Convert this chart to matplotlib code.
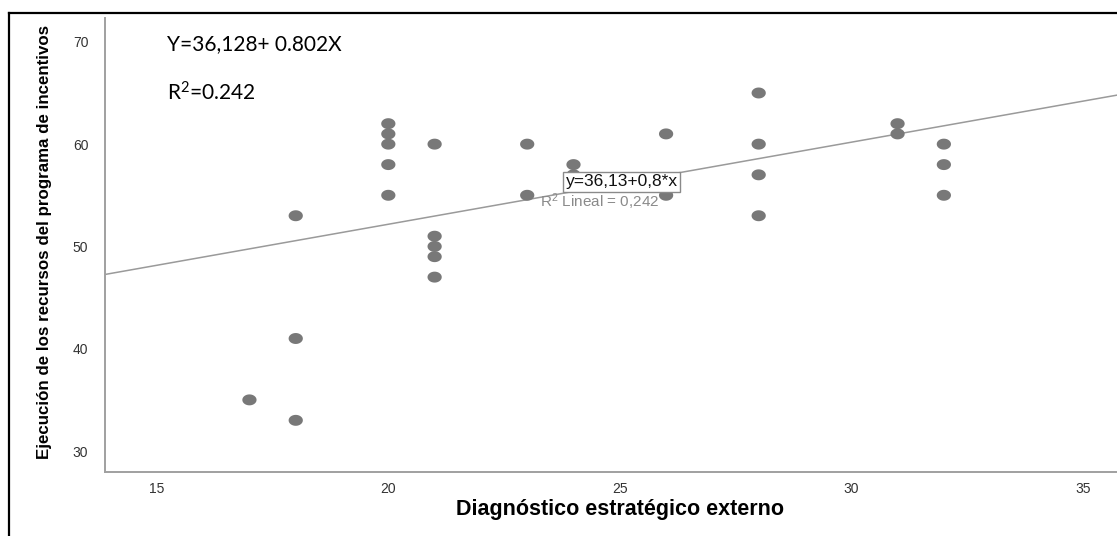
import numpy as np
import matplotlib
matplotlib.use("Agg")
import matplotlib.pyplot as plt
from matplotlib.lines import Line2D
from matplotlib.path import Path

plt.rcParams["mathtext.default"] = "regular"

# Scores: external strategic diagnosis (x) vs execution of incentive-programme resources (y)
diagnostico = [17, 18, 18, 18,
               20, 20, 20, 20, 20,
               21, 21, 21, 21, 21,
               23, 23, 24, 24,
               26, 26, 28, 28, 28, 28,
               31, 31, 32, 32, 32]
ejecucion = [35, 53, 41, 33,
             62, 61, 60, 58, 55,
             60, 51, 50, 49, 47,
             60, 55, 58, 57,
             61, 55, 65, 60, 57, 53,
             62, 61, 60, 58, 55]

intercepto = 36.128
pendiente = 0.802
r2 = 0.242

x_ticks = [15, 20, 25, 30, 35]
y_ticks = [30, 40, 50, 60, 70]

W, H = 1117, 536
fig = plt.figure(figsize=(W / 100, H / 100), dpi=100)
ax = fig.add_axes([105 / W, 1 - 472 / H, 1 - 105 / W, (472 - 18) / H])

ax.set_xlim(13.88, 35.74)
ax.set_ylim(27.95, 72.33)

# Fit line across the full x range
xl = np.array(ax.get_xlim())
ax.plot(xl, intercepto + pendiente * xl, color="#9a9a9a", lw=1.1, zorder=2)

# Slightly flattened dots
t = np.linspace(0, 2 * np.pi, 60)
ell = Path(np.column_stack([1.3 * np.cos(t), np.sin(t)]), closed=True)
ax.scatter(diagnostico, ejecucion, marker=ell, s=105, color="#787878",
           edgecolors="none", zorder=3)

for side in ["top", "right"]:
    ax.spines[side].set_visible(False)
for side in ["left", "bottom"]:
    ax.spines[side].set_color("#a0a0a0")
    ax.spines[side].set_linewidth(1.4)

ax.set_xticks(x_ticks)
ax.set_yticks(y_ticks)
ax.tick_params(length=0, labelsize=10, labelcolor="#333333")
ax.tick_params(axis="y", pad=12)
ax.tick_params(axis="x", pad=7)
for lab in ax.get_xticklabels() + ax.get_yticklabels():
    lab.set_family("Liberation Sans")

# In-plot fit annotations
ax.text(25.04, 56.3, "y=36,13+0,8*x", ha="center", va="center", fontsize=12.5,
        family="Liberation Sans", color="#111111", zorder=5,
        bbox=dict(boxstyle="square,pad=0.15", fc="white", ec="#8a8a8a", lw=1))
ax.text(24.57, 54.4, "R$^2$ Lineal = 0,242", ha="center", va="center",
        fontsize=11, family="Liberation Sans", color="#8a8a8a", zorder=4)

fig.text(167 / W, 1 - 44 / H, "Y=36,128+ 0.802X",
         ha="left", va="center", fontsize=15, family="Lato", color="black")
fig.text(167 / W, 1 - 93 / H, "R$^2$=0.242",
         ha="left", va="center", fontsize=15, family="Lato", color="black")

fig.text(620 / W, 1 - 510 / H, "Diagnóstico estratégico externo",
         ha="center", va="center", fontsize=15.5, fontweight="bold",
         family="Liberation Sans", color="black")
fig.text(45 / W, 1 - 242 / H,
         "Ejecución de los recursos del programa de incentivos",
         rotation=90, ha="center", va="center", fontsize=12.2,
         fontweight="bold", family="Liberation Sans", color="black")

# Outer frame
fig.add_artist(Line2D([8.5 / W, 1], [1 - 12.5 / H, 1 - 12.5 / H],
                      transform=fig.transFigure, color="black", lw=1.6))
fig.add_artist(Line2D([8.5 / W, 8.5 / W], [0, 1 - 12.5 / H],
                      transform=fig.transFigure, color="black", lw=1.6))

fig.savefig("out.png", dpi=100)
